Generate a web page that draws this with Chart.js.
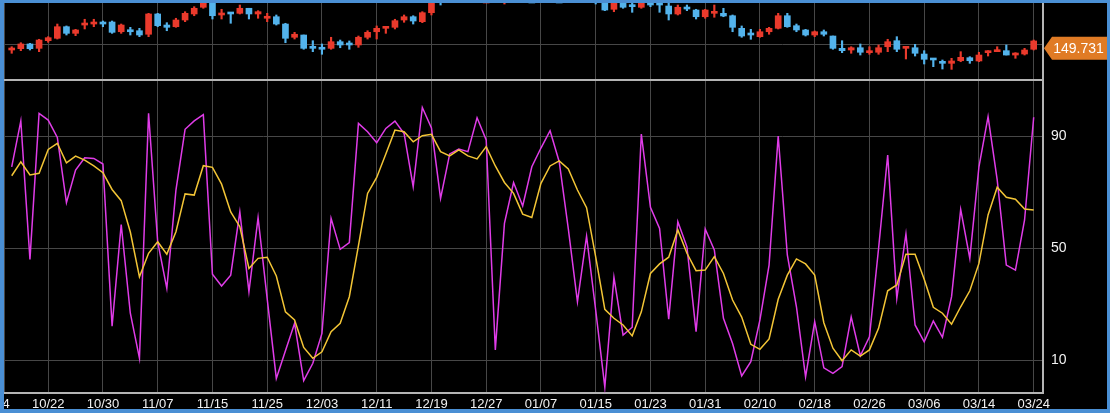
<!DOCTYPE html>
<html lang="en">
<head>
  <meta charset="UTF-8">
  <title>Daily candles with stochastic oscillator</title>
  <script src="https://cdn.jsdelivr.net/npm/chart.js@4"></script>
  <style>
    html, body {
      margin: 0;
      padding: 0;
    }

    body {
      background: #4a8fd4;
      width: 1110px;
      height: 413px;
      overflow: hidden;
      position: relative;
    }

    .frame {
      position: absolute;
      left: 4px;
      top: 3px;
      width: 1103px;
      height: 406px;
      background: #000;
    }

    canvas {
      display: block;
    }
  </style>
</head>
<body>
  <div class="frame"><canvas id="chart" width="1103" height="406"></canvas></div>

  <script>
    // trading days, first two are left of the visible window
    const dates = [
      '10/14', '10/15', '10/16', '10/17', '10/18', '10/21', '10/22', '10/23', '10/24', '10/25',
      '10/28', '10/29', '10/30', '10/31', '11/01', '11/04', '11/05', '11/06', '11/07', '11/08',
      '11/11', '11/12', '11/13', '11/14', '11/15', '11/18', '11/19', '11/20', '11/21', '11/22',
      '11/25', '11/26', '11/27', '11/28', '11/29', '12/02', '12/03', '12/04', '12/05', '12/06',
      '12/09', '12/10', '12/11', '12/12', '12/13', '12/16', '12/17', '12/18', '12/19', '12/20',
      '12/23', '12/24', '12/25', '12/26', '12/27', '12/30', '12/31', '01/02', '01/03', '01/06',
      '01/07', '01/08', '01/09', '01/10', '01/13', '01/14', '01/15', '01/16', '01/17', '01/20',
      '01/21', '01/22', '01/23', '01/24', '01/27', '01/28', '01/29', '01/30', '01/31', '02/03',
      '02/04', '02/05', '02/06', '02/07', '02/10', '02/11', '02/12', '02/13', '02/14', '02/17',
      '02/18', '02/19', '02/20', '02/21', '02/24', '02/25', '02/26', '02/27', '02/28', '03/03',
      '03/04', '03/05', '03/06', '03/07', '03/10', '03/11', '03/12', '03/13', '03/14', '03/17',
      '03/18', '03/19', '03/20', '03/21', '03/24'
    ];

    const tickIdx = [0, 6, 12, 18, 24, 30, 36, 42, 48, 54, 60, 66, 72, 78, 84, 90, 96, 102, 108, 114];

    const openP = [null, null,
      149.48, 149.68, 150.38, 149.73, 150.87, 151.23, 152.96, 151.97, 153.21, 153.36,
      153.66, 153.66, 152.21, 152.47, 152.36, 151.83, 154.86, 153.21, 152.96, 153.96,
      154.86, 155.86, 156.80, 154.71, 155.05, 154.96, 155.71, 154.86, 154.22, 154.45,
      153.36, 151.38, 151.72, 149.97, 149.73, 149.73, 150.72, 150.48, 150.23, 151.38,
      152.21, 152.72, 152.87, 153.96, 154.45, 153.71, 155.05, 157.20, 156.90, 157.40,
      157.80, 157.20, 157.90, 157.90, 157.00, 157.80, 157.30, 157.70, 157.50, 158.00,
      158.30, 158.10, 157.60, 157.90, 157.30, 156.46, 155.56, 156.69, 156.20, 155.86,
      156.46, 156.46, 156.05, 154.86, 155.86, 155.45, 154.45, 154.96, 154.96, 154.60,
      152.72, 151.97, 151.47, 152.21, 152.72, 154.60, 153.11, 152.47, 151.72, 152.21,
      151.57, 149.73, 149.48, 149.82, 149.08, 149.14, 149.97, 150.87, 149.73, 149.82,
      148.88, 148.24, 147.73, 147.49, 147.88, 148.33, 147.84, 149.08, 149.23, 149.38,
      148.73, 148.88, 149.59];

    const highP = [null, null,
      149.97, 150.57, 150.48, 151.08, 151.47, 153.36, 153.07, 152.57, 154.07, 154.07,
      153.81, 153.81, 153.36, 152.87, 152.72, 154.96, 154.96, 153.56, 154.22, 155.20,
      155.95, 156.69, 157.00, 155.56, 155.05, 156.20, 155.71, 155.35, 154.96, 154.71,
      153.47, 152.12, 151.72, 150.87, 150.38, 151.38, 150.97, 150.83, 151.57, 152.36,
      153.07, 152.96, 154.07, 154.71, 154.60, 155.20, 156.69, 157.90, 157.90, 158.00,
      158.00, 158.00, 158.10, 158.00, 157.90, 157.90, 158.00, 158.10, 158.30, 158.60,
      158.90, 158.50, 158.30, 158.20, 157.60, 156.69, 156.69, 156.95, 156.69, 156.95,
      156.95, 156.69, 156.46, 156.20, 156.20, 155.56, 155.56, 156.20, 155.71, 154.71,
      153.07, 152.57, 152.57, 152.87, 154.96, 154.96, 153.36, 152.57, 152.32, 152.47,
      151.57, 150.87, 149.97, 150.38, 149.97, 150.23, 151.08, 151.47, 149.97, 150.33,
      149.38, 148.24, 147.99, 148.24, 149.23, 148.48, 149.14, 149.38, 149.97, 150.23,
      149.08, 149.73, 150.97];

    const lowP = [null, null,
      148.99, 149.38, 149.48, 149.23, 150.63, 151.12, 151.72, 151.62, 152.62, 152.96,
      152.96, 151.97, 151.97, 151.72, 151.47, 151.47, 152.96, 152.36, 152.87, 153.71,
      154.60, 155.71, 154.11, 154.11, 153.47, 154.86, 154.11, 154.22, 153.71, 153.21,
      150.57, 151.12, 149.59, 149.23, 148.84, 149.59, 149.82, 149.59, 149.88, 151.12,
      151.12, 151.97, 152.62, 153.62, 153.36, 153.56, 154.71, 156.20, 156.70, 156.90,
      157.10, 156.90, 157.60, 157.00, 156.35, 156.80, 157.10, 157.20, 157.30, 157.60,
      157.80, 157.30, 157.10, 157.00, 156.35, 155.35, 155.20, 155.71, 155.11, 155.71,
      155.95, 155.11, 153.96, 154.71, 155.35, 154.11, 154.22, 154.37, 154.45, 152.21,
      151.38, 151.08, 151.38, 151.83, 152.62, 152.87, 152.21, 151.57, 151.47, 151.57,
      149.59, 149.08, 148.99, 148.73, 148.84, 148.84, 149.23, 149.23, 148.14, 148.58,
      147.39, 146.99, 146.64, 146.59, 147.73, 147.49, 147.73, 148.58, 149.23, 148.73,
      148.24, 148.73, 149.48];

    const closeP = [null, null,
      149.73, 150.38, 149.68, 150.97, 151.32, 152.96, 151.97, 152.47, 153.47, 153.66,
      153.36, 152.12, 153.21, 152.21, 151.72, 154.86, 153.11, 152.87, 153.96, 154.96,
      155.71, 156.46, 154.60, 154.96, 154.86, 155.71, 154.86, 155.20, 154.45, 153.36,
      151.23, 151.83, 149.73, 149.73, 149.59, 150.72, 150.23, 150.23, 151.38, 152.12,
      152.72, 152.96, 153.86, 154.45, 153.81, 155.05, 156.54, 156.70, 157.40, 157.80,
      157.20, 157.90, 157.90, 157.20, 157.80, 157.30, 157.70, 157.50, 158.00, 158.30,
      158.10, 157.60, 157.90, 157.30, 156.70, 155.45, 156.46, 155.86, 155.95, 156.54,
      156.20, 156.20, 154.86, 155.86, 155.60, 154.45, 155.45, 155.20, 154.56, 152.87,
      151.57, 151.72, 152.21, 152.72, 154.60, 152.96, 152.47, 151.72, 152.21, 151.83,
      149.73, 149.38, 149.82, 149.14, 149.23, 149.82, 150.72, 149.59, 149.97, 148.99,
      148.09, 147.99, 147.49, 147.84, 148.39, 147.88, 148.73, 149.23, 149.33, 148.73,
      148.99, 149.48, 150.83];

    const lastPrice = 149.731;

    // oscillator: fast (%K) and slow (%D)
    const kLine = [null, null,
      79.2, 95.6, 46.1, 98.3, 95.9, 89.7, 66.4, 78.0, 82.4, 82.2,
      80.2, 22.3, 58.6, 26.9, 10.8, 98.3, 52.4, 35.8, 70.9, 92.6,
      95.6, 97.8, 40.8, 36.6, 40.5, 63.1, 34.6, 61.0, 32.0, 3.6,
      13.5, 23.3, 2.8, 9.0, 19.7, 60.8, 49.7, 52.1, 94.7, 91.7,
      87.8, 92.9, 95.5, 91.1, 72.1, 100.4, 93.1, 67.9, 83.8, 85.5,
      84.6, 96.7, 88.8, 13.8, 59.0, 73.6, 65.2, 79.2, 85.9, 92.1,
      81.0, 57.0, 31.0, 54.4, 28.0, 0.5, 39.7, 19.1, 21.9, 90.9,
      64.7, 57.2, 24.8, 59.6, 50.6, 20.3, 57.0, 49.5, 25.1, 16.1,
      4.5, 9.6, 24.5, 44.1, 90.2, 47.7, 29.2, 4.2, 23.9, 7.4,
      5.4, 7.8, 25.6, 11.7, 18.5, 50.0, 83.4, 32.2, 55.2, 22.7,
      16.7, 24.1, 18.3, 32.8, 64.0, 46.5, 79.2, 97.1, 74.5, 44.1,
      42.3, 60.2, 96.9];

    const dLine = [null, null,
      76.0, 81.0, 76.3, 76.9, 85.4, 87.6, 80.6, 83.0, 81.6, 79.5,
      77.1, 71.1, 67.1, 55.9, 39.9, 48.3, 52.4, 48.0, 56.0, 69.5,
      69.1, 79.6, 79.0, 73.0, 63.1, 57.8, 42.9, 46.5, 46.9, 40.2,
      27.4, 24.5, 14.7, 10.8, 13.1, 20.3, 23.3, 32.8, 51.0, 69.7,
      75.4, 83.8, 92.3, 91.7, 88.1, 90.3, 90.8, 84.6, 83.1, 85.2,
      83.1, 82.0, 86.4, 79.5, 73.6, 69.7, 62.3, 61.1, 73.3, 79.5,
      81.3, 78.4, 70.9, 64.6, 47.0, 28.3, 25.1, 22.7, 18.8, 27.4,
      41.1, 44.5, 46.9, 56.6, 48.3, 42.1, 42.3, 47.1, 41.1, 31.6,
      25.5, 15.8, 14.0, 17.7, 31.9, 40.5, 46.3, 44.5, 40.5, 23.5,
      14.4, 9.9, 13.8, 11.6, 13.8, 21.5, 34.9, 37.0, 48.0, 48.0,
      39.0, 29.0, 26.9, 23.0, 29.2, 34.9, 44.7, 62.0, 71.9, 68.3,
      67.6, 64.1, 63.8];

    const priceGrid = [150.25];
    const oscTicks = [10, 50, 90];

    const UP = '#ea3a2c';
    const DOWN = '#53b3ec';
    const GRID = '#474747';
    const FRAME = '#b4b4b4';

    Chart.defaults.font.family = '"Liberation Sans", Arial, sans-serif';

    const barIdx = dates.map((d, i) => i).filter(i => openP[i] !== null);
    const wickData = barIdx.map(i => ({ x: i, y: [lowP[i], highP[i]] }));
    const bodyData = barIdx.map(i => ({ x: i, y: [openP[i], closeP[i]] }));
    const kData = dates.map((d, i) => ({ x: i, y: kLine[i] }));
    const dData = dates.map((d, i) => ({ x: i, y: dLine[i] }));

    const candleColor = c => {
      const i = c.raw ? c.raw.x : 0;
      return closeP[i] >= openP[i] ? UP : DOWN;
    };

    // orange last-price tag on the right axis
    const priceTag = {
      id: 'priceTag',
      afterDraw(chart) {
        const ctx = chart.ctx;
        const y = chart.scales.yPrice.getPixelForValue(lastPrice);
        const tip = chart.chartArea.right + 1;
        const left = tip + 8;
        const right = chart.width;
        const h = 11.5;
        ctx.save();
        ctx.fillStyle = '#e07b25';
        ctx.beginPath();
        ctx.moveTo(tip, y);
        ctx.lineTo(left, y - h);
        ctx.lineTo(right, y - h);
        ctx.lineTo(right, y + h);
        ctx.lineTo(left, y + h);
        ctx.closePath();
        ctx.fill();
        ctx.fillStyle = '#ffffff';
        ctx.font = '14px "Liberation Sans", Arial, sans-serif';
        ctx.textAlign = 'center';
        ctx.textBaseline = 'middle';
        ctx.fillText(lastPrice.toFixed(3), (left + right) / 2 - 1, y + 0.5);
        ctx.restore();
      }
    };

    const chart = new Chart(document.getElementById('chart'), {
      type: 'bar',
      data: {
        datasets: [
          {
            label: 'body',
            data: bodyData,
            xAxisID: 'x',
            yAxisID: 'yPrice',
            backgroundColor: candleColor,
            borderWidth: 0,
            barThickness: 6,
            minBarLength: 2,
            grouped: false
          },
          {
            label: 'wick',
            data: wickData,
            xAxisID: 'x',
            yAxisID: 'yPrice',
            backgroundColor: candleColor,
            borderWidth: 0,
            barThickness: 1.5,
            grouped: false
          },
          {
            type: 'line',
            label: '%D',
            data: dData,
            xAxisID: 'x',
            yAxisID: 'yOsc',
            borderColor: '#f3c536',
            borderWidth: 1.5,
            pointRadius: 0,
            tension: 0
          },
          {
            type: 'line',
            label: '%K',
            data: kData,
            xAxisID: 'x',
            yAxisID: 'yOsc',
            borderColor: '#e03ce8',
            borderWidth: 1.5,
            pointRadius: 0,
            tension: 0
          }
        ]
      },
      options: {
        responsive: false,
        animation: false,
        events: [],
        layout: { padding: 0, autoPadding: false },
        plugins: {
          legend: { display: false },
          tooltip: { enabled: false }
        },
        scales: {
          x: {
            type: 'linear',
            min: 1.156,
            max: 115.02,
            offset: false,
            grid: { color: GRID, lineWidth: 1, drawTicks: false, offset: false },
            border: { color: FRAME, width: 2 },
            ticks: {
              autoSkip: false,
              maxRotation: 0,
              padding: 4,
              color: '#f2f2f2',
              font: { size: 13 },
              callback: v => dates[v] ?? ''
            },
            afterBuildTicks: s => {
              s.ticks = [{ value: s.min }].concat(tickIdx.map(v => ({ value: v })));
            },
            afterFit: s => {
              s.height = 16;
              s.paddingLeft = 0;
              s.paddingRight = 0;
            }
          },
          yPrice: {
            type: 'linear',
            position: 'right',
            stack: 'panes',
            stackWeight: 77,
            min: 145,
            max: 156.5,
            grid: { color: GRID, drawTicks: false },
            border: { color: FRAME, width: 2 },
            ticks: { display: false },
            afterBuildTicks: s => {
              s.ticks = priceGrid.map(v => ({ value: v }));
            },
            afterFit: s => {
              s.width = 64;
              s.paddingTop = 0;
              s.paddingBottom = 0;
            }
          },
          yOsc: {
            type: 'linear',
            position: 'right',
            stack: 'panes',
            stackWeight: 313,
            min: -1.6,
            max: 110.2,
            grid: {
              drawTicks: false,
              color: c => (c.tick && c.tick.value === 110.2 ? FRAME : GRID),
              lineWidth: c => (c.tick && c.tick.value === 110.2 ? 2 : 1)
            },
            border: { color: FRAME, width: 2 },
            ticks: {
              padding: 8,
              color: '#f2f2f2',
              font: { size: 14 },
              callback: v => (v === 110.2 ? '' : String(v))
            },
            afterBuildTicks: s => {
              s.ticks = oscTicks.concat([s.max]).map(v => ({ value: v }));
            },
            afterFit: s => {
              s.width = 64;
              s.paddingTop = 0;
              s.paddingBottom = 0;
            }
          }
        }
      },
      plugins: [priceTag]
    });
  </script>
</body>
</html>
